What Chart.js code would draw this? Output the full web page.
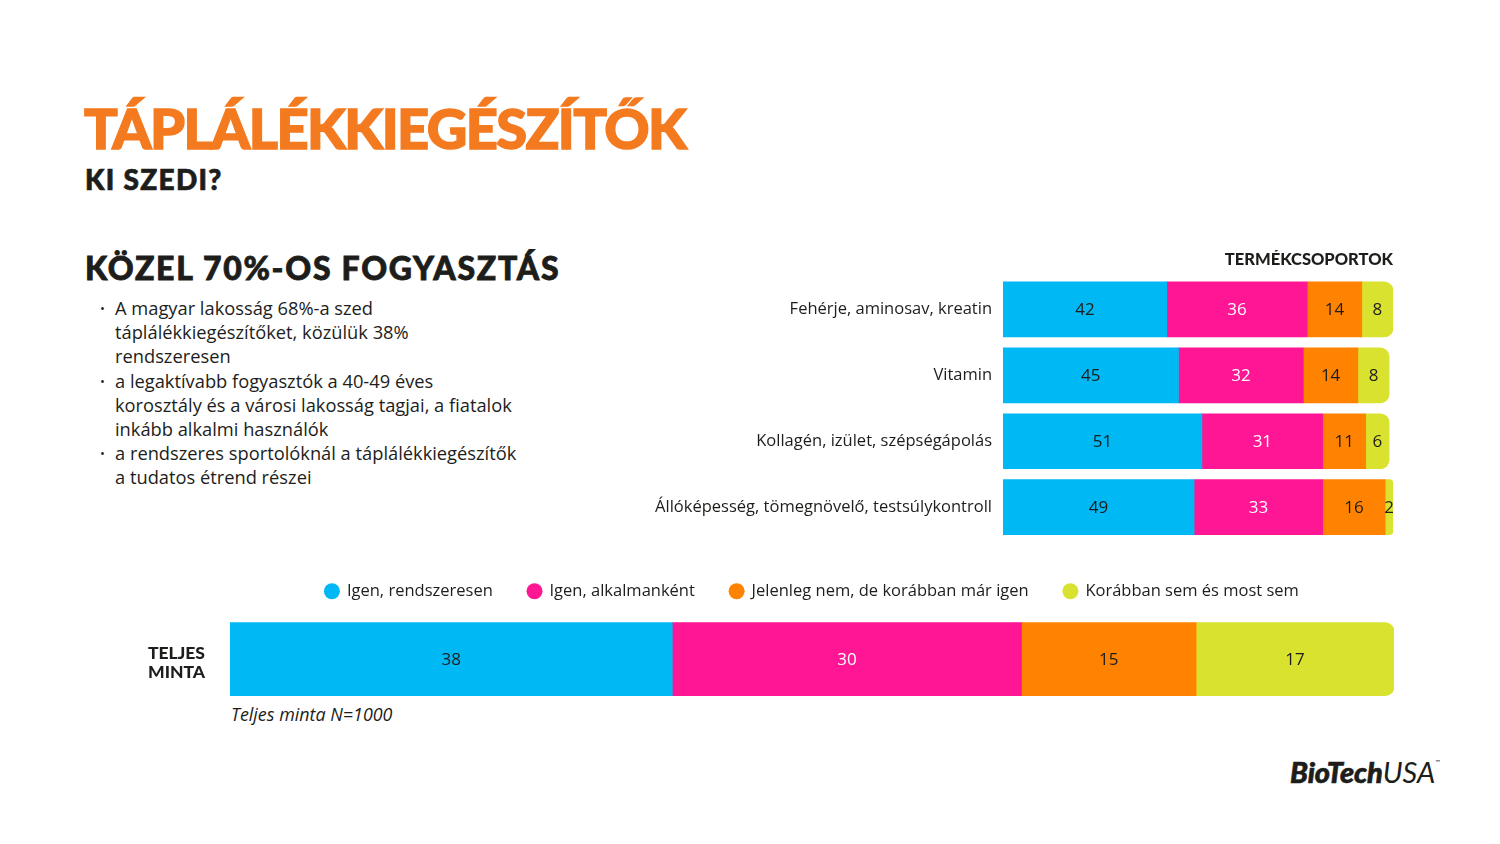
<!DOCTYPE html>
<html>
<head>
<meta charset="utf-8">
<script src="https://cdn.jsdelivr.net/npm/chart.js@4.4.1/dist/chart.umd.min.js"></script>
<style>
  html, body { margin: 0; padding: 0; background: #ffffff; }
  body { width: 1500px; height: 844px; position: relative; overflow: hidden; font-family: "Open Sans", sans-serif; color: #1d1d1b; }
  .abs { position: absolute; white-space: nowrap; }
  #title { left: 84px; top: 96px; font-family: "Lato", sans-serif; font-weight: 900; font-size: 56px; color: #F47A20; letter-spacing: -1.6px; line-height: 64px; -webkit-text-stroke: 1.4px #F47A20; }
  #sub { left: 85px; top: 162px; font-family: "Lato", sans-serif; font-weight: 900; font-size: 28px; line-height: 34px; letter-spacing: 1.3px; -webkit-text-stroke: 0.7px #1d1d1b; }
  #head { left: 85px; top: 249px; font-family: "Lato", sans-serif; font-weight: 900; font-size: 32px; line-height: 38px; letter-spacing: 1.7px; -webkit-text-stroke: 0.8px #1d1d1b; }
  #bullets { left: 100px; top: 296px; font-size: 18.3px; line-height: 24.2px; margin: 0; padding: 0; list-style: none; }
  #bullets li { position: relative; padding-left: 15px; }
  #bullets li::before { content: "•"; position: absolute; left: 0; top: 0; font-size: 13px; }
  #note { left: 231px; top: 702px; font-size: 17.9px; font-style: italic; }
  #logo { left: 1290px; top: 754px; font-family: "Lato", sans-serif; font-style: italic; font-size: 29px; letter-spacing: -0.1px; }
  #logo b { font-weight: 900; -webkit-text-stroke: 0.6px #1d1d1b; }
  #logo span { font-weight: 400; }
  #logo sup { font-size: 6px; vertical-align: top; font-style: normal; position: relative; top: 4px; }
  canvas { position: absolute; }
</style>
</head>
<body>
<div class="abs" id="title">TÁPLÁLÉKKIEGÉSZÍTŐK</div>
<div class="abs" id="sub">KI SZEDI?</div>
<div class="abs" id="head">KÖZEL 70%-OS FOGYASZTÁS</div>
<ul class="abs" id="bullets">
  <li>A magyar lakosság 68%-a szed<br>táplálékkiegészítőket, közülük 38%<br>rendszeresen</li>
  <li>a legaktívabb fogyasztók a 40-49 éves<br>korosztály és a városi lakosság tagjai, a fiatalok<br>inkább alkalmi használók</li>
  <li>a rendszeres sportolóknál a táplálékkiegészítők<br>a tudatos étrend részei</li>
</ul>
<div class="abs" id="note">Teljes minta N=1000</div>
<div class="abs" id="logo"><b>BioTech</b><span>USA</span><sup>™</sup></div>

<canvas id="top" style="left:640px; top:250px;" width="753" height="311"></canvas>
<canvas id="bottom" style="left:148px; top:548px;" width="1246" height="180"></canvas>

<script>
// ---- data ----
const seriesNames = ["Igen, rendszeresen", "Igen, alkalmanként", "Jelenleg nem, de korábban már igen", "Korábban sem és most sem"];
const seriesColors = ["#00B8F4", "#FF1694", "#FF8300", "#D9E22E"];
const labelColors = ["#1d1d1b", "#ffffff", "#1d1d1b", "#1d1d1b"];

const productGroups = ["Fehérje, aminosav, kreatin", "Vitamin", "Kollagén, izület, szépségápolás", "Állóképesség, tömegnövelő, testsúlykontroll"];
const regularly = [42, 45, 51, 49];
const occasionally = [36, 32, 31, 33];
const formerly = [14, 14, 11, 16];
const never = [8, 8, 6, 2];

const totalLabel = [["TELJES", "MINTA"]];
const totalRegularly = [38];
const totalOccasionally = [30];
const totalFormerly = [15];
const totalNever = [17];

const topTitle = "TERMÉKCSOPORTOK";

// ---- plugin: values inside segments ----
const valueLabels = {
  id: 'valueLabels',
  afterDatasetsDraw(chart) {
    const ctx = chart.ctx;
    ctx.save();
    ctx.font = '17px "Open Sans", sans-serif';
    ctx.textAlign = 'center';
    ctx.textBaseline = 'middle';
    chart.data.datasets.forEach((ds, di) => {
      const meta = chart.getDatasetMeta(di);
      meta.data.forEach((el, i) => {
        const p = el.getProps(['x', 'y', 'base'], true);
        ctx.fillStyle = labelColors[di];
        ctx.fillText(String(ds.data[i]), (p.x + p.base) / 2, p.y + 1);
      });
    });
    ctx.restore();
  }
};

function makeDatasets(arrs, thickness) {
  return arrs.map((arr, i) => ({
    label: seriesNames[i],
    data: arr,
    backgroundColor: seriesColors[i],
    borderWidth: 0,
    borderRadius: i === 3 ? 9 : 0,
    borderSkipped: 'start',
    barThickness: thickness
  }));
}

Chart.defaults.font.family = '"Open Sans", sans-serif';
Chart.defaults.color = '#1d1d1b';

new Chart(document.getElementById('top'), {
  type: 'bar',
  data: { labels: productGroups, datasets: makeDatasets([regularly, occasionally, formerly, never], 55) },
  options: {
    indexAxis: 'y',
    responsive: false,
    animation: false,
    layout: { padding: 0 },
    plugins: {
      legend: { display: false },
      tooltip: { enabled: false },
      title: { display: true, text: topTitle, align: 'end', font: { family: 'Lato', weight: '900', size: 16.5 }, color: '#1d1d1b', padding: { top: 0, bottom: 6.7 } }
    },
    scales: {
      x: { stacked: true, display: false, min: 0, max: 100 },
      y: {
        stacked: true,
        grid: { display: false, drawTicks: false },
        border: { display: false },
        ticks: { padding: 11, font: { size: 16.5 }, color: '#1d1d1b' },
        afterFit(axis) { axis.width = 363; }
      }
    }
  },
  plugins: [valueLabels]
});

new Chart(document.getElementById('bottom'), {
  type: 'bar',
  data: { labels: totalLabel, datasets: makeDatasets([totalRegularly, totalOccasionally, totalFormerly, totalNever], 73) },
  options: {
    indexAxis: 'y',
    responsive: false,
    animation: false,
    layout: { padding: 0 },
    plugins: {
      legend: {
        display: true,
        position: 'top',
        fullSize: false,
        labels: { usePointStyle: true, pointStyle: 'circle', boxWidth: 13.5, boxHeight: 11.3, padding: 35, font: { size: 16.5 }, color: '#1d1d1b' }
      },
      tooltip: { enabled: false }
    },
    scales: {
      x: { stacked: true, display: false, min: 0, max: 100 },
      y: {
        stacked: true,
        grid: { display: false, drawTicks: false },
        border: { display: false },
        ticks: { padding: 0, crossAlign: 'far', labelOffset: 4, font: { family: 'Lato', weight: '900', size: 17.5, lineHeight: 1.1 }, color: '#1d1d1b' },
        afterFit(axis) { axis.width = 82; }
      }
    }
  },
  plugins: [valueLabels]
});
</script>
</body>
</html>
